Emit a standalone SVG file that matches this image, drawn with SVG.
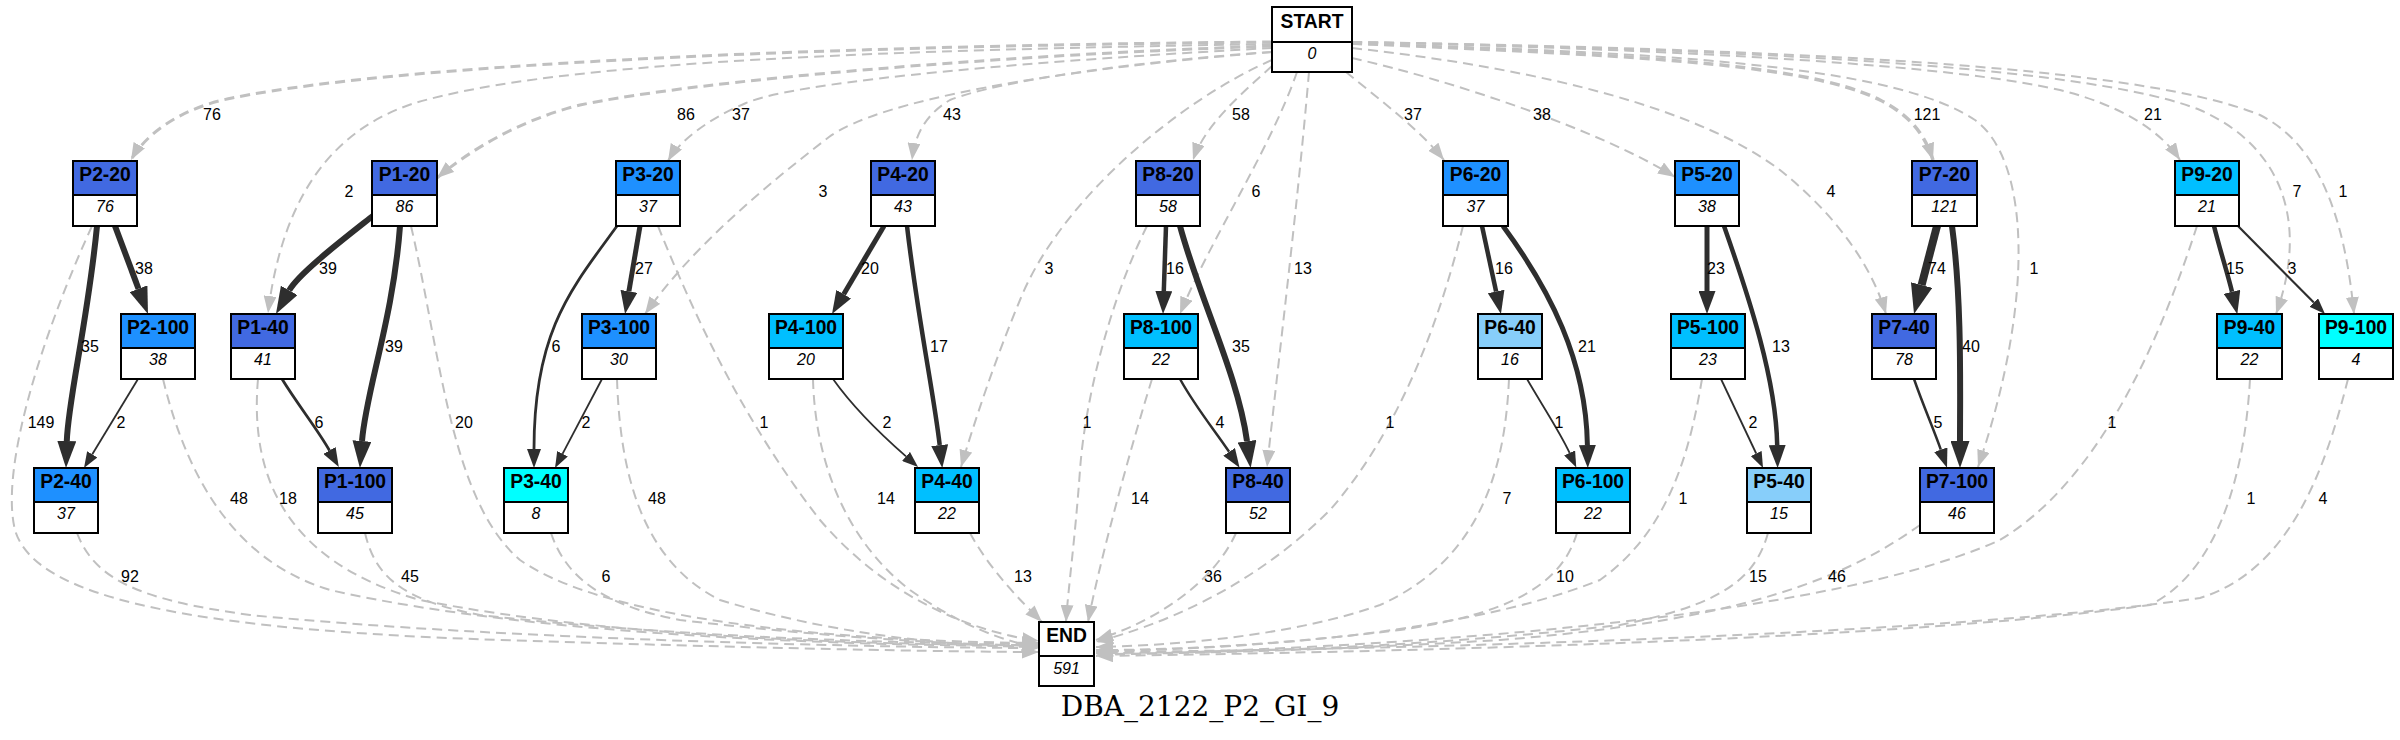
<svg xmlns="http://www.w3.org/2000/svg" width="2400" height="740" viewBox="0 0 2400 740">
<style>
.n rect{stroke:#000;stroke-width:2}
.rb{fill:#4169E1}.db{fill:#1E90FF}.ds{fill:#00BFFF}.ls{fill:#87CEFA}.cy{fill:#00FFFF}.w{fill:#fff}
.h{font-family:"Liberation Sans",Arial,sans-serif;font-weight:bold;font-size:19.3px;text-anchor:middle;fill:#000}
.v{font-family:"Liberation Sans",Arial,sans-serif;font-style:italic;font-size:16px;text-anchor:middle;fill:#000}
.el{font-family:"Liberation Sans",Arial,sans-serif;font-size:16px;text-anchor:middle;fill:#000}
.d{fill:none;stroke:#c0c0c0;stroke-width:2;stroke-dasharray:10,6;marker-end:url(#ag)}
.s{fill:none;stroke:#2e2e2e}
.t{font-family:"DejaVu Serif","Liberation Serif",serif;font-size:28px;text-anchor:middle;fill:#000}
</style>
<defs>
<marker id="ag" markerUnits="userSpaceOnUse" viewBox="0 0 17 13" refX="17" refY="6.5" markerWidth="17" markerHeight="13" orient="auto"><path d="M0,0L17,6.5L0,13Z" fill="#c0c0c0"/></marker>
<marker id="a1" markerUnits="userSpaceOnUse" viewBox="0 0 16 12" refX="0" refY="6" markerWidth="16" markerHeight="12" orient="auto"><path d="M0,0L16,6L0,12Z" fill="#2e2e2e"/></marker>
<marker id="a2" markerUnits="userSpaceOnUse" viewBox="0 0 19 14" refX="0" refY="7" markerWidth="19" markerHeight="14" orient="auto"><path d="M0,0L19,7L0,14Z" fill="#2e2e2e"/></marker>
<marker id="a3" markerUnits="userSpaceOnUse" viewBox="0 0 23 17" refX="0" refY="8.5" markerWidth="23" markerHeight="17" orient="auto"><path d="M0,0L23,8.5L0,17Z" fill="#2e2e2e"/></marker>
<marker id="a4" markerUnits="userSpaceOnUse" viewBox="0 0 27 19" refX="0" refY="9.5" markerWidth="27" markerHeight="19" orient="auto"><path d="M0,0L27,9.5L0,19Z" fill="#2e2e2e"/></marker>
<marker id="a5" markerUnits="userSpaceOnUse" viewBox="0 0 30 22" refX="0" refY="11" markerWidth="30" markerHeight="22" orient="auto"><path d="M0,0L30,11L0,22Z" fill="#2e2e2e"/></marker>
</defs>
<rect width="2400" height="740" fill="#fff"/>
<g id="connectors">
<path class="d" style="stroke-width:3" d="M1272,42 C900,45 420,60 232,98 C180,108 145,135 131,160"/>
<path class="d" d="M1272,44 C900,50 560,60 415,103 C330,130 282,200 268,313"/>
<path class="d" style="stroke-width:3" d="M1272,46 C1000,55 700,80 580,105 C520,120 470,150 437,178"/>
<path class="d" d="M1272,48 C1050,60 800,80 746,103 C710,118 680,140 668,161"/>
<path class="d" d="M1272,52 C1050,70 880,100 829,137 C760,190 690,250 645,314"/>
<path class="d" d="M1272,52 C1150,60 1000,80 950,100 C925,115 915,135 912,160"/>
<path class="d" d="M1272,60 C1180,100 1060,200 1020,300 C995,360 975,420 961,467"/>
<path class="d" d="M1272,66 C1240,95 1205,125 1193,160"/>
<path class="d" d="M1297,72 C1270,150 1210,240 1180,314"/>
<path class="d" d="M1309,72 C1298,200 1282,330 1267,467"/>
<path class="d" d="M1346,72 C1380,100 1420,130 1444,160"/>
<path class="d" d="M1352,58 C1450,80 1600,130 1675,177"/>
<path class="d" d="M1352,48 C1550,70 1700,110 1780,170 C1830,210 1870,260 1886,314"/>
<path class="d" style="stroke-width:3.5" d="M1352,43 C1600,55 1800,60 1880,100 C1910,115 1925,135 1933,160"/>
<path class="d" d="M1352,44 C1700,52 1900,70 1975,120 C2030,160 2035,300 1978,467"/>
<path class="d" d="M1352,42 C1700,50 1950,65 2060,90 C2120,105 2160,130 2180,160"/>
<path class="d" d="M1352,42 C1800,50 2100,70 2200,110 C2280,145 2310,220 2276,314"/>
<path class="d" d="M1352,42 C1850,50 2150,70 2260,115 C2320,145 2345,220 2354,314"/>
<path class="d" d="M92,226 C40,340 0,470 15,530 C35,600 200,630 500,640 C750,648 950,652 1039,652"/>
<path class="d" d="M77,533 C95,580 140,600 250,615 C500,640 900,648 1039,648"/>
<path class="d" d="M163,379 C185,470 230,560 330,590 C550,640 900,646 1039,646"/>
<path class="d" d="M258,379 C250,470 280,560 420,600 C620,640 900,645 1039,645"/>
<path class="d" d="M365,533 C375,575 400,600 480,615 C700,640 950,644 1039,644"/>
<path class="d" d="M411,226 C440,350 450,500 520,560 C620,630 900,642 1039,643"/>
<path class="d" d="M551,533 C565,575 600,605 680,620 C850,640 980,645 1039,646"/>
<path class="d" d="M617,379 C620,470 640,560 720,600 C850,640 980,647 1039,647"/>
<path class="d" d="M658,226 C700,330 750,430 820,520 C880,590 960,630 1039,641"/>
<path class="d" d="M813,379 C815,460 845,540 910,590 C960,625 1000,640 1039,648"/>
<path class="d" d="M970,533 C990,570 1020,600 1042,622"/>
<path class="d" d="M1147,226 C1110,300 1085,400 1080,470 C1075,540 1068,590 1066,622"/>
<path class="d" d="M1152,379 C1130,450 1100,560 1088,622"/>
<path class="d" d="M1236,533 C1215,580 1160,620 1096,640"/>
<path class="d" d="M1463,226 C1440,320 1400,430 1330,510 C1250,590 1160,625 1096,642"/>
<path class="d" d="M1509,379 C1505,470 1480,560 1380,605 C1280,640 1150,646 1096,647"/>
<path class="d" d="M1577,533 C1560,590 1500,615 1400,630 C1250,648 1150,650 1096,650"/>
<path class="d" d="M1702,379 C1690,450 1670,530 1600,580 C1450,640 1200,650 1096,651"/>
<path class="d" d="M1768,533 C1755,580 1720,605 1620,625 C1400,650 1200,653 1096,653"/>
<path class="d" d="M1920,525 C1850,575 1750,620 1500,640 C1300,652 1150,654 1096,654"/>
<path class="d" d="M2197,226 C2160,340 2100,480 2000,540 C1800,630 1300,650 1096,655"/>
<path class="d" d="M2250,379 C2245,470 2220,570 2150,605 C1900,640 1400,652 1096,656"/>
<path class="d" d="M2348,379 C2325,470 2290,570 2200,598 C1950,635 1400,650 1096,652"/>
<path class="s" stroke-width="6" marker-end="url(#a4)" d="M97,226 C88,320 68,400 66.8,441"/>
<path class="s" stroke-width="6" marker-end="url(#a4)" d="M115,226 L138.5,288.7"/>
<path class="s" stroke-width="1.8" marker-end="url(#a1)" d="M138,379 L92.3,454.3"/>
<path class="s" stroke-width="6" marker-end="url(#a4)" d="M374,215 C345,238 299,273 289.2,290.4"/>
<path class="s" stroke-width="6" marker-end="url(#a4)" d="M400,226 C393,320 366,390 362,441"/>
<path class="s" stroke-width="2.8" marker-end="url(#a2)" d="M282,379 C298,405 318,430 329.5,450.5"/>
<path class="s" stroke-width="5" marker-end="url(#a3)" d="M640,226 L628.9,291.3"/>
<path class="s" stroke-width="2.8" marker-end="url(#a2)" d="M617,226 C572,288 534,330 534,449"/>
<path class="s" stroke-width="1.8" marker-end="url(#a1)" d="M602,379 L562.5,453.8"/>
<path class="s" stroke-width="5" marker-end="url(#a3)" d="M884,226 L843.7,294.2"/>
<path class="s" stroke-width="4.5" marker-end="url(#a3)" d="M907,226 C918,320 934,395 939.7,445.1"/>
<path class="s" stroke-width="1.8" marker-end="url(#a1)" d="M833,379 C855,410 885,438 906,456.4"/>
<path class="s" stroke-width="4.5" marker-end="url(#a3)" d="M1166,226 L1163.8,291"/>
<path class="s" stroke-width="6" marker-end="url(#a4)" d="M1180,226 C1200,300 1238,375 1247,441.2"/>
<path class="s" stroke-width="2.5" marker-end="url(#a2)" d="M1180,379 C1196,408 1216,432 1229.1,451.8"/>
<path class="s" stroke-width="4.5" marker-end="url(#a3)" d="M1482,226 L1496.1,291.5"/>
<path class="s" stroke-width="5" marker-end="url(#a3)" d="M1503,226 C1550,290 1586,360 1587.4,445"/>
<path class="s" stroke-width="1.8" marker-end="url(#a1)" d="M1527,379 C1542,405 1560,432 1569.6,452.9"/>
<path class="s" stroke-width="5" marker-end="url(#a3)" d="M1707,226 L1707,291"/>
<path class="s" stroke-width="4.5" marker-end="url(#a3)" d="M1724,226 C1750,300 1776,380 1777.2,445"/>
<path class="s" stroke-width="1.8" marker-end="url(#a1)" d="M1721,379 L1756.2,453.5"/>
<path class="s" stroke-width="8" marker-end="url(#a5)" d="M1937,226 L1921.6,285"/>
<path class="s" stroke-width="6" marker-end="url(#a4)" d="M1952,226 C1962,300 1960,390 1960,441"/>
<path class="s" stroke-width="2.5" marker-end="url(#a2)" d="M1914,379 C1923,405 1934,430 1940.8,449.7"/>
<path class="s" stroke-width="4.5" marker-end="url(#a3)" d="M2214,226 C2220,250 2228,275 2232,291.8"/>
<path class="s" stroke-width="2.2" marker-end="url(#a1)" d="M2238,226 L2313.8,302.6"/>
<g>
<text class="el" x="90" y="351.5">35</text><text class="el" x="144" y="273.5">38</text><text class="el" x="121" y="427.5">2</text>
<text class="el" x="328" y="273.5">39</text><text class="el" x="394" y="351.5">39</text><text class="el" x="319" y="427.5">6</text>
<text class="el" x="644" y="273.5">27</text><text class="el" x="556" y="351.5">6</text><text class="el" x="586" y="427.5">2</text>
<text class="el" x="870" y="273.5">20</text><text class="el" x="939" y="351.5">17</text><text class="el" x="887" y="427.5">2</text>
<text class="el" x="1175" y="273.5">16</text><text class="el" x="1241" y="351.5">35</text><text class="el" x="1220" y="427.5">4</text>
<text class="el" x="1504" y="273.5">16</text><text class="el" x="1587" y="351.5">21</text><text class="el" x="1559" y="427.5">1</text>
<text class="el" x="1716" y="273.5">23</text><text class="el" x="1781" y="351.5">13</text><text class="el" x="1753" y="427.5">2</text>
<text class="el" x="1937" y="273.5">74</text><text class="el" x="1971" y="351.5">40</text><text class="el" x="1938" y="427.5">5</text>
<text class="el" x="2235" y="273.5">15</text><text class="el" x="2292" y="273.5">3</text>
<text class="el" x="212" y="119.5">76</text><text class="el" x="349" y="196.5">2</text><text class="el" x="686" y="119.5">86</text>
<text class="el" x="741" y="119.5">37</text><text class="el" x="823" y="196.5">3</text><text class="el" x="952" y="119.5">43</text>
<text class="el" x="1049" y="273.5">3</text><text class="el" x="1241" y="119.5">58</text><text class="el" x="1256" y="196.5">6</text>
<text class="el" x="1303" y="273.5">13</text><text class="el" x="1413" y="119.5">37</text><text class="el" x="1542" y="119.5">38</text>
<text class="el" x="1831" y="196.5">4</text><text class="el" x="1927" y="119.5">121</text><text class="el" x="2034" y="273.5">1</text>
<text class="el" x="2153" y="119.5">21</text><text class="el" x="2297" y="196.5">7</text><text class="el" x="2343" y="196.5">1</text>
<text class="el" x="41" y="427.5">149</text><text class="el" x="130" y="581.5">92</text><text class="el" x="239" y="503.5">48</text>
<text class="el" x="288" y="503.5">18</text><text class="el" x="410" y="581.5">45</text><text class="el" x="464" y="427.5">20</text>
<text class="el" x="606" y="581.5">6</text><text class="el" x="657" y="503.5">48</text><text class="el" x="764" y="427.5">1</text>
<text class="el" x="886" y="503.5">14</text><text class="el" x="1023" y="581.5">13</text><text class="el" x="1087" y="427.5">1</text>
<text class="el" x="1140" y="503.5">14</text><text class="el" x="1213" y="581.5">36</text><text class="el" x="1390" y="427.5">1</text>
<text class="el" x="1507" y="503.5">7</text><text class="el" x="1565" y="581.5">10</text><text class="el" x="1683" y="503.5">1</text>
<text class="el" x="1758" y="581.5">15</text><text class="el" x="1837" y="581.5">46</text><text class="el" x="2112" y="427.5">1</text>
<text class="el" x="2251" y="503.5">1</text><text class="el" x="2323" y="503.5">4</text>
</g>
</g>
<g id="START" class="n"><rect class="w" x="1272" y="7" width="80" height="35"/><rect class="w" x="1272" y="42" width="80" height="30"/><text class="h" x="1312" y="28">START</text><text class="v" x="1312" y="59">0</text></g>
<g id="END" class="n"><rect class="w" x="1039" y="622" width="55" height="34"/><rect class="w" x="1039" y="656" width="55" height="30"/><text class="h" x="1066.5" y="642">END</text><text class="v" x="1066.5" y="674">591</text></g>
<g id="P2-20" class="n"><rect class="rb" x="73" y="161" width="64" height="34"/><rect class="w" x="73" y="195" width="64" height="31"/><text class="h" x="105" y="181">P2-20</text><text class="v" x="105" y="212">76</text></g>
<g id="P1-20" class="n"><rect class="rb" x="372" y="161" width="65" height="34"/><rect class="w" x="372" y="195" width="65" height="31"/><text class="h" x="404.5" y="181">P1-20</text><text class="v" x="404.5" y="212">86</text></g>
<g id="P3-20" class="n"><rect class="db" x="616" y="161" width="64" height="34"/><rect class="w" x="616" y="195" width="64" height="31"/><text class="h" x="648" y="181">P3-20</text><text class="v" x="648" y="212">37</text></g>
<g id="P4-20" class="n"><rect class="rb" x="871" y="161" width="64" height="34"/><rect class="w" x="871" y="195" width="64" height="31"/><text class="h" x="903" y="181">P4-20</text><text class="v" x="903" y="212">43</text></g>
<g id="P8-20" class="n"><rect class="rb" x="1136" y="161" width="64" height="34"/><rect class="w" x="1136" y="195" width="64" height="31"/><text class="h" x="1168" y="181">P8-20</text><text class="v" x="1168" y="212">58</text></g>
<g id="P6-20" class="n"><rect class="db" x="1443" y="161" width="65" height="34"/><rect class="w" x="1443" y="195" width="65" height="31"/><text class="h" x="1475.5" y="181">P6-20</text><text class="v" x="1475.5" y="212">37</text></g>
<g id="P5-20" class="n"><rect class="db" x="1675" y="161" width="64" height="34"/><rect class="w" x="1675" y="195" width="64" height="31"/><text class="h" x="1707" y="181">P5-20</text><text class="v" x="1707" y="212">38</text></g>
<g id="P7-20" class="n"><rect class="rb" x="1912" y="161" width="65" height="34"/><rect class="w" x="1912" y="195" width="65" height="31"/><text class="h" x="1944.5" y="181">P7-20</text><text class="v" x="1944.5" y="212">121</text></g>
<g id="P9-20" class="n"><rect class="ds" x="2175" y="161" width="64" height="34"/><rect class="w" x="2175" y="195" width="64" height="31"/><text class="h" x="2207" y="181">P9-20</text><text class="v" x="2207" y="212">21</text></g>
<g id="P2-100" class="n"><rect class="db" x="121" y="314" width="74" height="34"/><rect class="w" x="121" y="348" width="74" height="31"/><text class="h" x="158" y="334">P2-100</text><text class="v" x="158" y="365">38</text></g>
<g id="P1-40" class="n"><rect class="rb" x="231" y="314" width="64" height="34"/><rect class="w" x="231" y="348" width="64" height="31"/><text class="h" x="263" y="334">P1-40</text><text class="v" x="263" y="365">41</text></g>
<g id="P3-100" class="n"><rect class="db" x="582" y="314" width="74" height="34"/><rect class="w" x="582" y="348" width="74" height="31"/><text class="h" x="619" y="334">P3-100</text><text class="v" x="619" y="365">30</text></g>
<g id="P4-100" class="n"><rect class="ds" x="769" y="314" width="74" height="34"/><rect class="w" x="769" y="348" width="74" height="31"/><text class="h" x="806" y="334">P4-100</text><text class="v" x="806" y="365">20</text></g>
<g id="P8-100" class="n"><rect class="ds" x="1124" y="314" width="74" height="34"/><rect class="w" x="1124" y="348" width="74" height="31"/><text class="h" x="1161" y="334">P8-100</text><text class="v" x="1161" y="365">22</text></g>
<g id="P6-40" class="n"><rect class="ls" x="1478" y="314" width="64" height="34"/><rect class="w" x="1478" y="348" width="64" height="31"/><text class="h" x="1510" y="334">P6-40</text><text class="v" x="1510" y="365">16</text></g>
<g id="P5-100" class="n"><rect class="ds" x="1671" y="314" width="74" height="34"/><rect class="w" x="1671" y="348" width="74" height="31"/><text class="h" x="1708" y="334">P5-100</text><text class="v" x="1708" y="365">23</text></g>
<g id="P7-40" class="n"><rect class="rb" x="1872" y="314" width="64" height="34"/><rect class="w" x="1872" y="348" width="64" height="31"/><text class="h" x="1904" y="334">P7-40</text><text class="v" x="1904" y="365">78</text></g>
<g id="P9-40" class="n"><rect class="ds" x="2217" y="314" width="65" height="34"/><rect class="w" x="2217" y="348" width="65" height="31"/><text class="h" x="2249.5" y="334">P9-40</text><text class="v" x="2249.5" y="365">22</text></g>
<g id="P9-100" class="n"><rect class="cy" x="2319" y="314" width="74" height="34"/><rect class="w" x="2319" y="348" width="74" height="31"/><text class="h" x="2356" y="334">P9-100</text><text class="v" x="2356" y="365">4</text></g>
<g id="P2-40" class="n"><rect class="db" x="34" y="468" width="64" height="34"/><rect class="w" x="34" y="502" width="64" height="31"/><text class="h" x="66" y="488">P2-40</text><text class="v" x="66" y="519">37</text></g>
<g id="P1-100" class="n"><rect class="rb" x="318" y="468" width="74" height="34"/><rect class="w" x="318" y="502" width="74" height="31"/><text class="h" x="355" y="488">P1-100</text><text class="v" x="355" y="519">45</text></g>
<g id="P3-40" class="n"><rect class="cy" x="504" y="468" width="64" height="34"/><rect class="w" x="504" y="502" width="64" height="31"/><text class="h" x="536" y="488">P3-40</text><text class="v" x="536" y="519">8</text></g>
<g id="P4-40" class="n"><rect class="ds" x="915" y="468" width="64" height="34"/><rect class="w" x="915" y="502" width="64" height="31"/><text class="h" x="947" y="488">P4-40</text><text class="v" x="947" y="519">22</text></g>
<g id="P8-40" class="n"><rect class="rb" x="1226" y="468" width="64" height="34"/><rect class="w" x="1226" y="502" width="64" height="31"/><text class="h" x="1258" y="488">P8-40</text><text class="v" x="1258" y="519">52</text></g>
<g id="P6-100" class="n"><rect class="ds" x="1556" y="468" width="74" height="34"/><rect class="w" x="1556" y="502" width="74" height="31"/><text class="h" x="1593" y="488">P6-100</text><text class="v" x="1593" y="519">22</text></g>
<g id="P5-40" class="n"><rect class="ls" x="1747" y="468" width="64" height="34"/><rect class="w" x="1747" y="502" width="64" height="31"/><text class="h" x="1779" y="488">P5-40</text><text class="v" x="1779" y="519">15</text></g>
<g id="P7-100" class="n"><rect class="rb" x="1920" y="468" width="74" height="34"/><rect class="w" x="1920" y="502" width="74" height="31"/><text class="h" x="1957" y="488">P7-100</text><text class="v" x="1957" y="519">46</text></g>
<text class="t" x="1200" y="716">DBA_2122_P2_GI_9</text>
</svg>
